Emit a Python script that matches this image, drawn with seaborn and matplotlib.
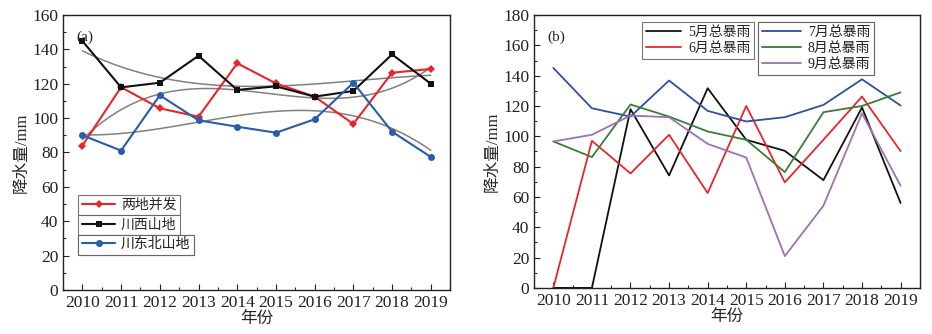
import numpy as np
import pandas as pd
import matplotlib
matplotlib.use("Agg")
import matplotlib.pyplot as plt
import seaborn as sns
from matplotlib.ticker import MultipleLocator

sns.set_theme(style="ticks")
plt.rcParams['font.family'] = ['Liberation Serif', 'Noto Sans CJK SC']
plt.rcParams['axes.unicode_minus'] = False

years = [2010, 2011, 2012, 2013, 2014, 2015, 2016, 2017, 2018, 2019]

# panel (a)
both = [84, 118, 105.7, 100.8, 131.9, 120.2, 112.5, 96.6, 126.4, 128.6]
west = [144.9, 117.9, 120.6, 136.3, 116.4, 118.5, 112.5, 115.8, 137.1, 120.0]
northeast = [90, 81.1, 113.3, 98.7, 95, 91.5, 99.3, 120.6, 92.1, 77.4]
names_a = ['两地并发', '川西山地', '川东北山地']

# panel (b)
may = [0, 0, 117.9, 74.2, 131.7, 97.7, 90.4, 71.1, 119, 56]
jun = [0, 97, 75.5, 101, 62.6, 120, 69.6, 97.7, 126.2, 90.2]
jul = [145.1, 118.5, 113, 136.8, 116.8, 109.8, 112.6, 120.7, 137.6, 120.3]
aug = [96.6, 86.3, 121, 113, 103.2, 97.7, 76.4, 115.9, 120, 129]
sep = [96.6, 101, 113.7, 112.6, 95, 86, 21, 54.2, 115.2, 67.4]
names_b = ['5月总暴雨', '6月总暴雨', '7月总暴雨', '8月总暴雨', '9月总暴雨']

fig = plt.figure(figsize=(9.32, 3.34), dpi=100)
axa = fig.add_axes([0.0676, 0.132, 0.4154, 0.823])
axb = fig.add_axes([0.573, 0.138, 0.414, 0.817])

tick_fs = 12.5
lab_fs = 12

def style_axis(ax, ymax, ymajor):
    ax.set_xlim(2009.5, 2019.5)
    ax.set_ylim(0, ymax)
    ax.set_xticks(years)
    ax.set_xticklabels([str(y) for y in years])
    ax.xaxis.set_minor_locator(MultipleLocator(0.5))
    ax.yaxis.set_major_locator(MultipleLocator(ymajor))
    ax.yaxis.set_minor_locator(MultipleLocator(ymajor / 2))
    ax.tick_params(axis='both', which='major', direction='in', length=4, width=0.8,
                   labelsize=tick_fs, colors='#222222', top=False, right=False)
    ax.tick_params(axis='both', which='minor', direction='in', length=2, width=0.8,
                   top=False, right=False)
    for s in ax.spines.values():
        s.set_linewidth(1.0)
        s.set_color('#222222')
    ax.set_xlabel('年份', fontsize=lab_fs, labelpad=0)
    ax.set_ylabel('降水量/mm', fontsize=lab_fs, labelpad=2)

# ---- panel (a)
cols_a = ['#e8262a', '#111111', '#2a5caa']
marks_a = ['D', 's', 'o']
msz_a = [4, 5, 5]
series_a = [both, west, northeast]
for name, vals, c, m, ms in zip(names_a, series_a, cols_a, marks_a, msz_a):
    df = pd.DataFrame({'year': years, 'v': vals})
    sns.regplot(data=df, x='year', y='v', order=3, scatter=False, ci=None, ax=axa,
                line_kws=dict(color='#808080', lw=1.1, zorder=1))
for name, vals, c, m, ms in zip(names_a, series_a, cols_a, marks_a, msz_a):
    df = pd.DataFrame({'year': years, 'v': vals})
    sns.lineplot(data=df, x='year', y='v', ax=axa, color=c, marker=m, markersize=ms,
                 markeredgewidth=0, lw=1.5, zorder=3, label=name)
handles_a, labels_a = axa.get_legend_handles_labels()
axa.get_legend().remove()
style_axis(axa, 160, 20)
axa.text(0.035, 0.905, '(a)', transform=axa.transAxes, fontsize=11)

leg_pos = [(0.04, 0.345), (0.04, 0.273), (0.04, 0.201)]
for h, l, p in zip(handles_a, labels_a, leg_pos):
    lg = axa.legend([h], [l], loc='upper left', bbox_to_anchor=p, fontsize=10,
                    frameon=True, fancybox=False, handlelength=2.4, borderpad=0.25,
                    borderaxespad=0, handletextpad=0.4, markerscale=1.0)
    lg.get_frame().set_edgecolor('#555555')
    lg.get_frame().set_linewidth(0.8)
    axa.add_artist(lg)

# ---- panel (b)
cols_b = ['#111111', '#e8262a', '#2f4fa0', '#3a7d3a', '#a070b0']
series_b = [may, jun, jul, aug, sep]
for name, vals, c in zip(names_b, series_b, cols_b):
    df = pd.DataFrame({'year': years, 'v': vals})
    sns.lineplot(data=df, x='year', y='v', ax=axb, color=c, lw=1.3, label=name)
handles_b, labels_b = axb.get_legend_handles_labels()
axb.get_legend().remove()
style_axis(axb, 180, 20)
axb.text(0.035, 0.905, '(b)', transform=axb.transAxes, fontsize=11)

lg1 = axb.legend(handles_b[:2], labels_b[:2], loc='upper left', bbox_to_anchor=(0.28, 0.975),
                 fontsize=10, frameon=True, fancybox=False, handlelength=2.5, borderpad=0.3,
                 borderaxespad=0, handletextpad=0.5, labelspacing=0.2)
lg1.get_frame().set_edgecolor('#555555'); lg1.get_frame().set_linewidth(0.8)
axb.add_artist(lg1)
lg2 = axb.legend(handles_b[2:], labels_b[2:], loc='upper left', bbox_to_anchor=(0.58, 0.975),
                 fontsize=10, frameon=True, fancybox=False, handlelength=2.8, borderpad=0.3,
                 borderaxespad=0, handletextpad=0.5, labelspacing=0.2)
lg2.get_frame().set_edgecolor('#555555'); lg2.get_frame().set_linewidth(0.8)
axb.add_artist(lg2)

fig.savefig('out.png', dpi=100, facecolor='white')
